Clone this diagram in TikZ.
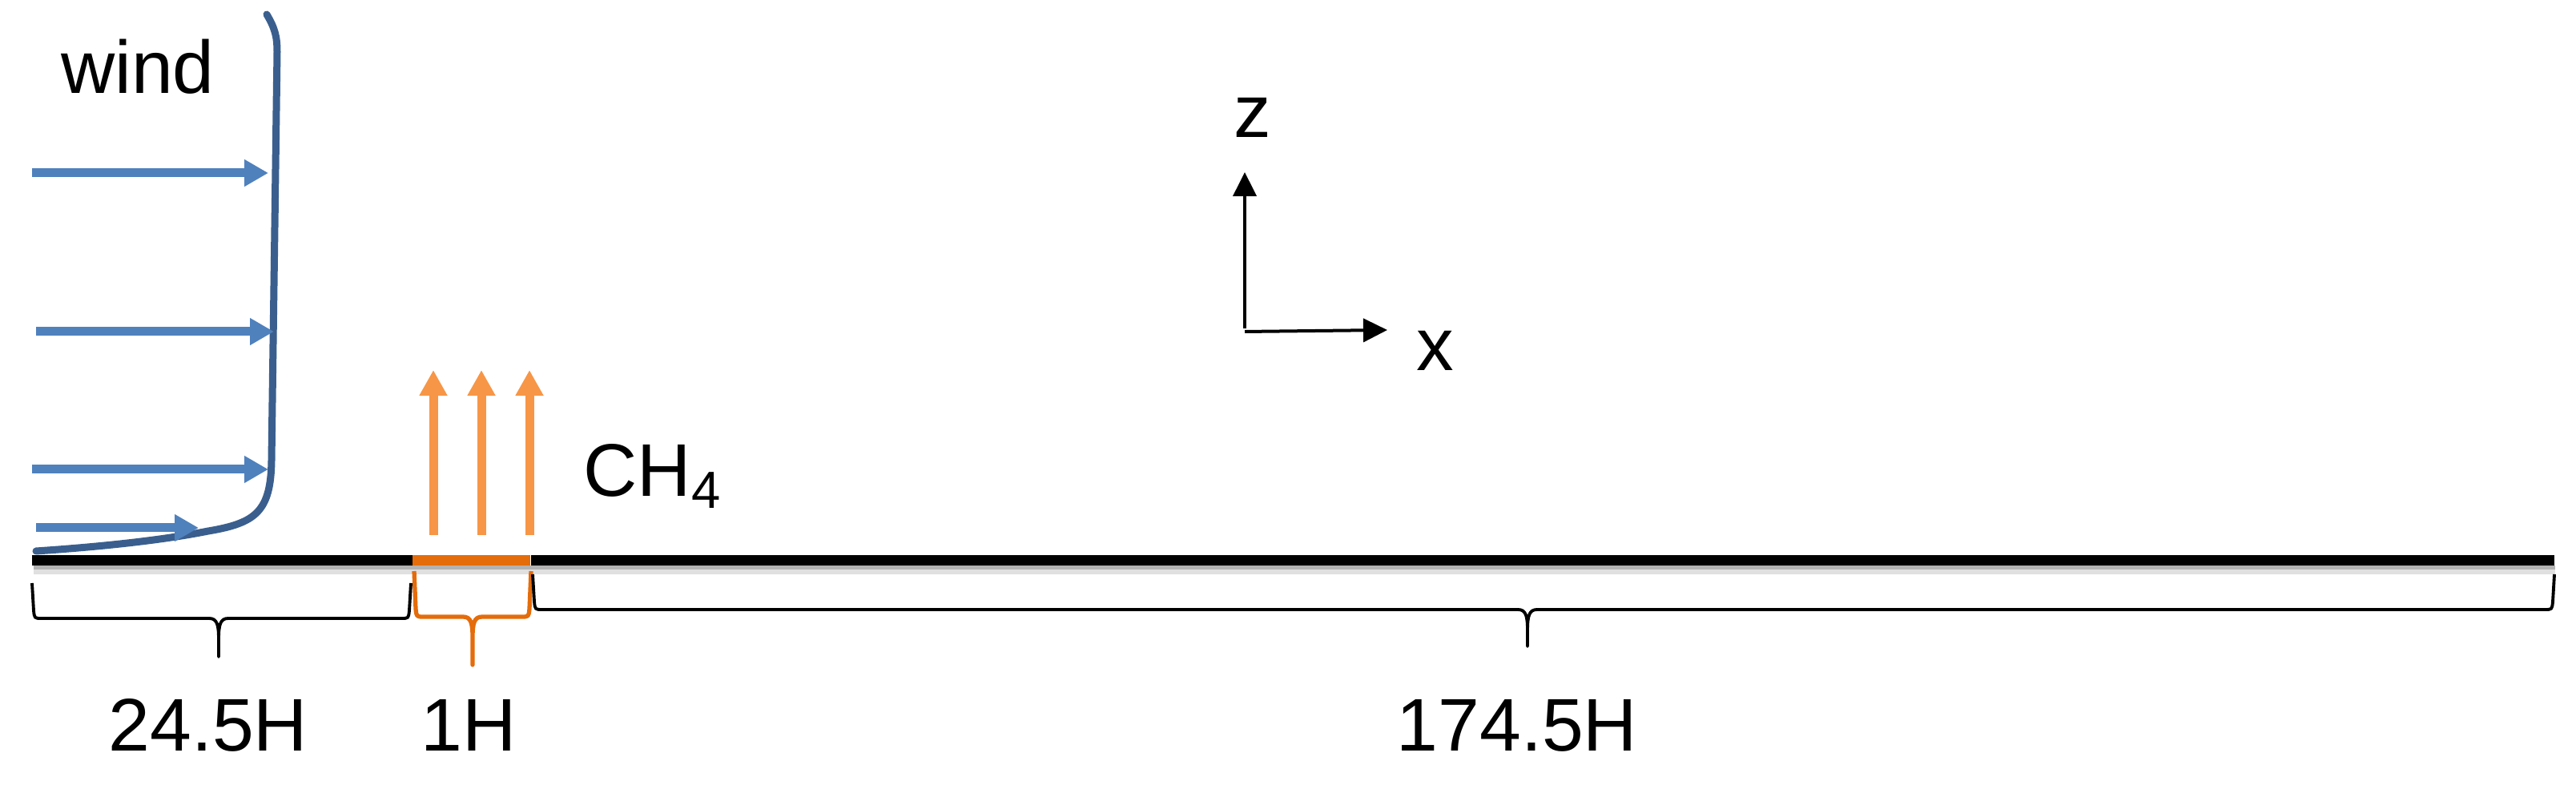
\documentclass[tikz,border=0pt]{standalone}
\usepackage{fontspec}
\setmainfont{Liberation Sans}
\usetikzlibrary{arrows.meta}
\definecolor{windblue}{HTML}{4F81BD}
\definecolor{profileblue}{HTML}{3A5F8E}
\definecolor{srcorange}{HTML}{F79646}
\definecolor{darkorange}{HTML}{E46C0A}
% brace under the ground: [colour]{x left}{x cusp}{x right}{y tips}{y line}{y cusp}
\newcommand*\hbrace[7][black]{
  \draw[line width=1.1pt,line join=round,#1] (#2,#5) -- (#2+0.02,#6+0.10) .. controls (#2+0.03,#6) .. (#2+0.12,#6)
    -- (#3-0.12,#6) .. controls (#3-0.02,#6) and (#3,#6-0.08) .. (#3,#6-0.26) -- (#3,#7)
    -- (#3,#6-0.26) .. controls (#3,#6-0.08) and (#3+0.02,#6) .. (#3+0.12,#6)
    -- (#4-0.12,#6) .. controls (#4-0.03,#6) .. (#4-0.02,#6+0.10) -- (#4,#5);}

\begin{document}
\begin{tikzpicture}[font=\fontsize{26.5}{30}\selectfont,
  windarrow/.style={draw=windblue,line width=0.11cm,-{Triangle[length=0.30cm,width=0.32cm]}},
  srcarrow/.style={draw=srcorange,line width=0.11cm,-{Triangle[length=0.32cm,width=0.33cm]}},
  axis/.style={draw=black,line width=0.04cm,-{Triangle[length=0.30cm,width=0.29cm]}}]
\useasboundingbox (0,-2.85) rectangle (32.16,7.00);
%ground
\draw [black!30,line width=0.05cm] (0.42,-0.09) -- (31.9,-0.09);
\draw [black!12,line width=0.06cm] (0.42,-0.145) -- (31.9,-0.145);
\draw [line width=0.13cm] (0.40,0) -- (5.15,0);
\draw [darkorange,line width=0.13cm] (5.15,0) -- (6.62,0);
\draw [line width=0.13cm] (6.63,0) -- (31.89,0);
%wind profile
\draw [profileblue,line width=0.09cm,line cap=round] (3.33,6.82) .. controls (3.43,6.65) and (3.46,6.55) .. (3.46,6.35)
  -- (3.39,1.25) .. controls (3.38,0.62) and (3.20,0.47) .. (2.60,0.37)
  .. controls (2.00,0.25) and (1.20,0.17) .. (0.45,0.12);
\draw [windarrow] (0.40,4.84) -- (3.35,4.84);
\draw [windarrow] (0.45,2.86) -- (3.42,2.86);
\draw [windarrow] (0.40,1.14) -- (3.35,1.14);
\draw [windarrow] (0.45,0.41) -- (2.48,0.41);
\node [anchor=base] (wind) at (1.72,5.83) {wind};
%source
\foreach \x in {5.41,6.01,6.61}
  \draw [srcarrow] (\x,0.32) -- (\x,2.38);
\node [anchor=base west,inner sep=0pt] (ch4) at (7.28,0.80) {CH\textsubscript{4}};
%axes
\coordinate (o) at (15.54,2.86);
\draw [axis] (15.54,2.90) -- (15.54,4.85);
\draw [axis] (o) -- (17.32,2.88);
\node [anchor=base] (lz) at (15.64,5.28) {z};
\node [anchor=base] (lx) at (17.92,2.37) {x};
%braces
\hbrace{0.40}{2.73}{5.13}{-0.28}{-0.72}{-1.20}
\hbrace[darkorange,line width=1.5pt]{5.17}{5.90}{6.63}{-0.13}{-0.70}{-1.30}
\hbrace{6.65}{19.07}{31.89}{-0.17}{-0.61}{-1.07}
%
\node [anchor=base] (d1) at (2.60,-2.38) {24.5H};
\node [anchor=base] (d2) at (5.85,-2.38) {1H};
\node [anchor=base] (d3) at (18.94,-2.38) {174.5H};
\end{tikzpicture}
\end{document}
